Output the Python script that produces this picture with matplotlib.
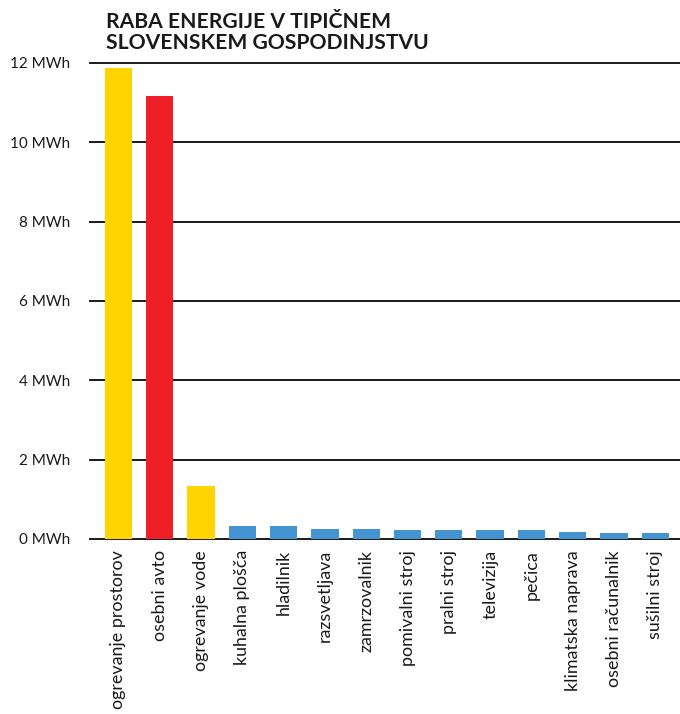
import matplotlib
matplotlib.use("Agg")
from matplotlib import pyplot as plt
import numpy as np

plt.rcParams['font.family'] = ['Lato', 'DejaVu Sans']

# data
categories = ["ogrevanje prostorov", "osebni avto", "ogrevanje vode", "kuhalna plošča",
              "hladilnik", "razsvetljava", "zamrzovalnik", "pomivalni stroj", "pralni stroj",
              "televizija", "pečica", "klimatska naprava", "osebni računalnik", "sušilni stroj"]
values = [11.87, 11.17, 1.34, 0.33, 0.33, 0.25, 0.25, 0.23, 0.23, 0.23, 0.23, 0.18, 0.15, 0.15]
groups = ["heat", "car", "heat"] + ["appliance"] * 11
group_colors = {"heat": "#FFD400", "car": "#EE1F26", "appliance": "#4394D0"}
yticks = [0, 2, 4, 6, 8, 10, 12]
title = "RABA ENERGIJE V TIPIČNEM\nSLOVENSKEM GOSPODINJSTVU"

fig = plt.figure(figsize=(6.8, 7.14), dpi=100)
ax = fig.add_axes([90 / 680, 175 / 714, 590 / 680, 476 / 714])

x = np.arange(len(categories))
for t in yticks:
    ax.axhline(t, color="#1a1a1a", lw=1.4, zorder=1, clip_on=False)
ax.bar(x, values, width=0.66, color=[group_colors[g] for g in groups], zorder=2)

ax.set_xlim(-0.69, len(categories) - 1 + 0.6)
ax.set_ylim(0, 12)
ax.set_yticks(yticks)
ax.set_yticklabels([f"{t} MWh" for t in yticks], fontsize=11, color="#1a1a1a")
ax.set_xticks(x)
ax.set_xticklabels(categories, rotation=90, fontsize=12.9, color="#1a1a1a", va="top", ha="center")
ax.tick_params(axis="y", length=0, pad=14)
ax.tick_params(axis="x", length=0, pad=8)
for s in ax.spines.values():
    s.set_visible(False)

fig.text(106 / 680, 1 - 12 / 714, title, fontsize=15.2, fontweight="bold",
         ha="left", va="top", linespacing=1.05, color="#1a1a1a")

plt.savefig("out.png", dpi=100)
